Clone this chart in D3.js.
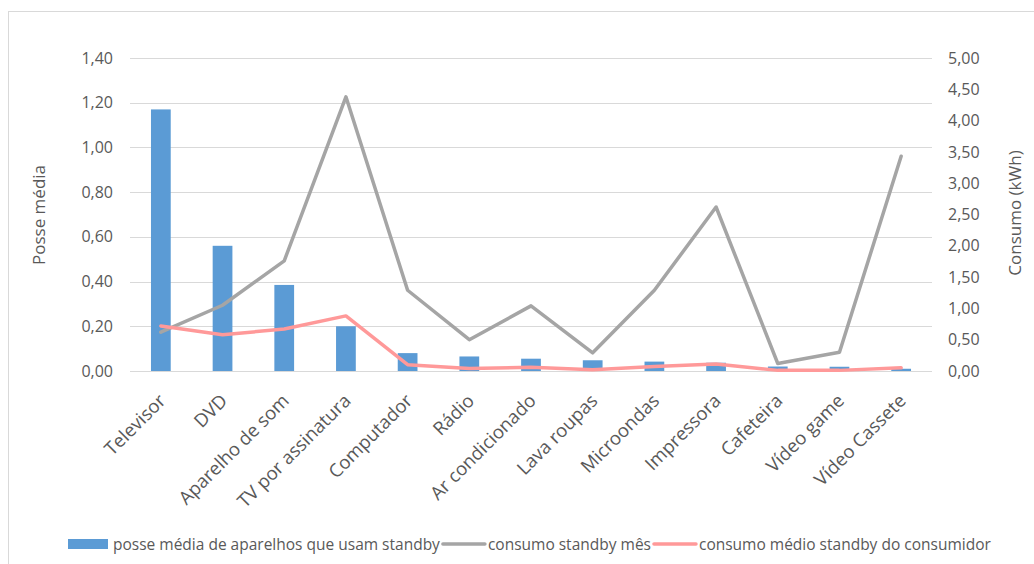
<!DOCTYPE html>
<html><head><meta charset="utf-8">
<script src="https://cdn.jsdelivr.net/npm/d3@7"></script>
<style>
body{margin:0;background:#fff;}
text{font-family:"Open Sans",sans-serif;fill:#595959;}
</style></head>
<body><svg id="c" width="1034" height="564"></svg>
<script>
const categories = ["Televisor","DVD","Aparelho de som","TV por assinatura","Computador","Rádio","Ar condicionado","Lava roupas","Microondas","Impressora","Cafeteira","Vídeo game","Vídeo Cassete"];
const posseMedia = [1.17,0.56,0.385,0.20,0.08,0.065,0.055,0.048,0.042,0.037,0.02,0.019,0.01];
const consumoMes = [0.62,1.05,1.76,4.38,1.29,0.50,1.04,0.29,1.29,2.62,0.12,0.30,3.43];
const consumoMedio = [0.72,0.58,0.67,0.88,0.10,0.04,0.06,0.02,0.07,0.11,0.01,0.01,0.05];
const leftTicks = [0,0.2,0.4,0.6,0.8,1.0,1.2,1.4];
const rightTicks = [0,0.5,1,1.5,2,2.5,3,3.5,4,4.5,5];
const legendLabels = ["posse média de aparelhos que usam standby","consumo standby mês","consumo médio standby do consumidor"];
const colors = ["#5B9BD5","#A5A5A5","#FF9999"];

const svg = d3.select("#c");
const fmt = v => d3.format(".2f")(v).replace(".", ",");

// chart border
svg.append("rect").attr("x",8.5).attr("y",11.5).attr("width",1040).attr("height",600)
  .attr("fill","none").attr("stroke","#D9D9D9");

const x = d3.scaleBand().domain(categories).range([130,932]).paddingInner(0.68).paddingOuter(0.34);
const yL = d3.scaleLinear().domain([0,1.4]).range([371,58]);
const yR = d3.scaleLinear().domain([0,5]).range([371,58]);
const cx = c => x(c) + x.bandwidth()/2;

// gridlines
svg.append("g").selectAll("line").data(leftTicks).join("line")
  .attr("x1",130).attr("x2",932).attr("y1",d=>Math.round(yL(d))+0.5).attr("y2",d=>Math.round(yL(d))+0.5)
  .attr("stroke","#D9D9D9").attr("stroke-width",1);

// left axis
const gl = svg.append("g").attr("transform","translate(122,0)")
  .call(d3.axisLeft(yL).tickValues(leftTicks).tickFormat(fmt).tickSize(0).tickPadding(9));
gl.select(".domain").remove();
gl.selectAll("text").style("font-size","16px").attr("fill","#595959").style("font-family","'Open Sans',sans-serif");

// right axis
const gr = svg.append("g").attr("transform","translate(938,0)")
  .call(d3.axisRight(yR).tickValues(rightTicks).tickFormat(fmt).tickSize(0).tickPadding(10));
gr.select(".domain").remove();
gr.selectAll("text").style("font-size","16px").attr("fill","#595959").style("font-family","'Open Sans',sans-serif");

// bars
svg.append("g").selectAll("rect").data(categories).join("rect")
  .attr("x",(d)=>x(d)).attr("width",x.bandwidth())
  .attr("y",(d,i)=>yL(posseMedia[i])).attr("height",(d,i)=>yL(0)-yL(posseMedia[i]))
  .attr("fill",colors[0]);

// lines
const line = d3.line().x((d,i)=>cx(categories[i])).y(d=>yR(d));
svg.append("path").datum(consumoMes).attr("d",line).attr("fill","none")
  .attr("stroke",colors[1]).attr("stroke-width",3.5).attr("stroke-linejoin","round").attr("stroke-linecap","round");
svg.append("path").datum(consumoMedio).attr("d",line).attr("fill","none")
  .attr("stroke",colors[2]).attr("stroke-width",3.5).attr("stroke-linejoin","round").attr("stroke-linecap","round");

// x labels
svg.append("g").selectAll("text").data(categories).join("text")
  .attr("transform",d=>`translate(${cx(d)+6},402) rotate(-45)`)
  .attr("text-anchor","end").style("font-size","18.5px").text(d=>d);

// axis titles
svg.append("text").attr("transform","translate(45,215) rotate(-90)").attr("text-anchor","middle")
  .style("font-size","17px").text("Posse média");
svg.append("text").attr("transform","translate(1021,213) rotate(-90)").attr("text-anchor","middle")
  .style("font-size","17px").text("Consumo (kWh)");

// legend
const lg = svg.append("g");
let lx = 68; const ly = 544;
legendLabels.forEach((t,i)=>{
  if(i===0){
    lg.append("rect").attr("x",lx).attr("y",ly-5).attr("width",40).attr("height",10).attr("fill",colors[0]);
  } else {
    lg.append("line").attr("x1",lx).attr("x2",lx+42).attr("y1",ly).attr("y2",ly)
      .attr("stroke",colors[i]).attr("stroke-width",3.5).attr("stroke-linecap","round");
  }
  const tx = lg.append("text").attr("x",lx+45).attr("y",ly+5.5).style("font-size","15.5px").text(t);
  lx = lx + 45 + tx.node().getComputedTextLength() + 3;
});
</script></body></html>
